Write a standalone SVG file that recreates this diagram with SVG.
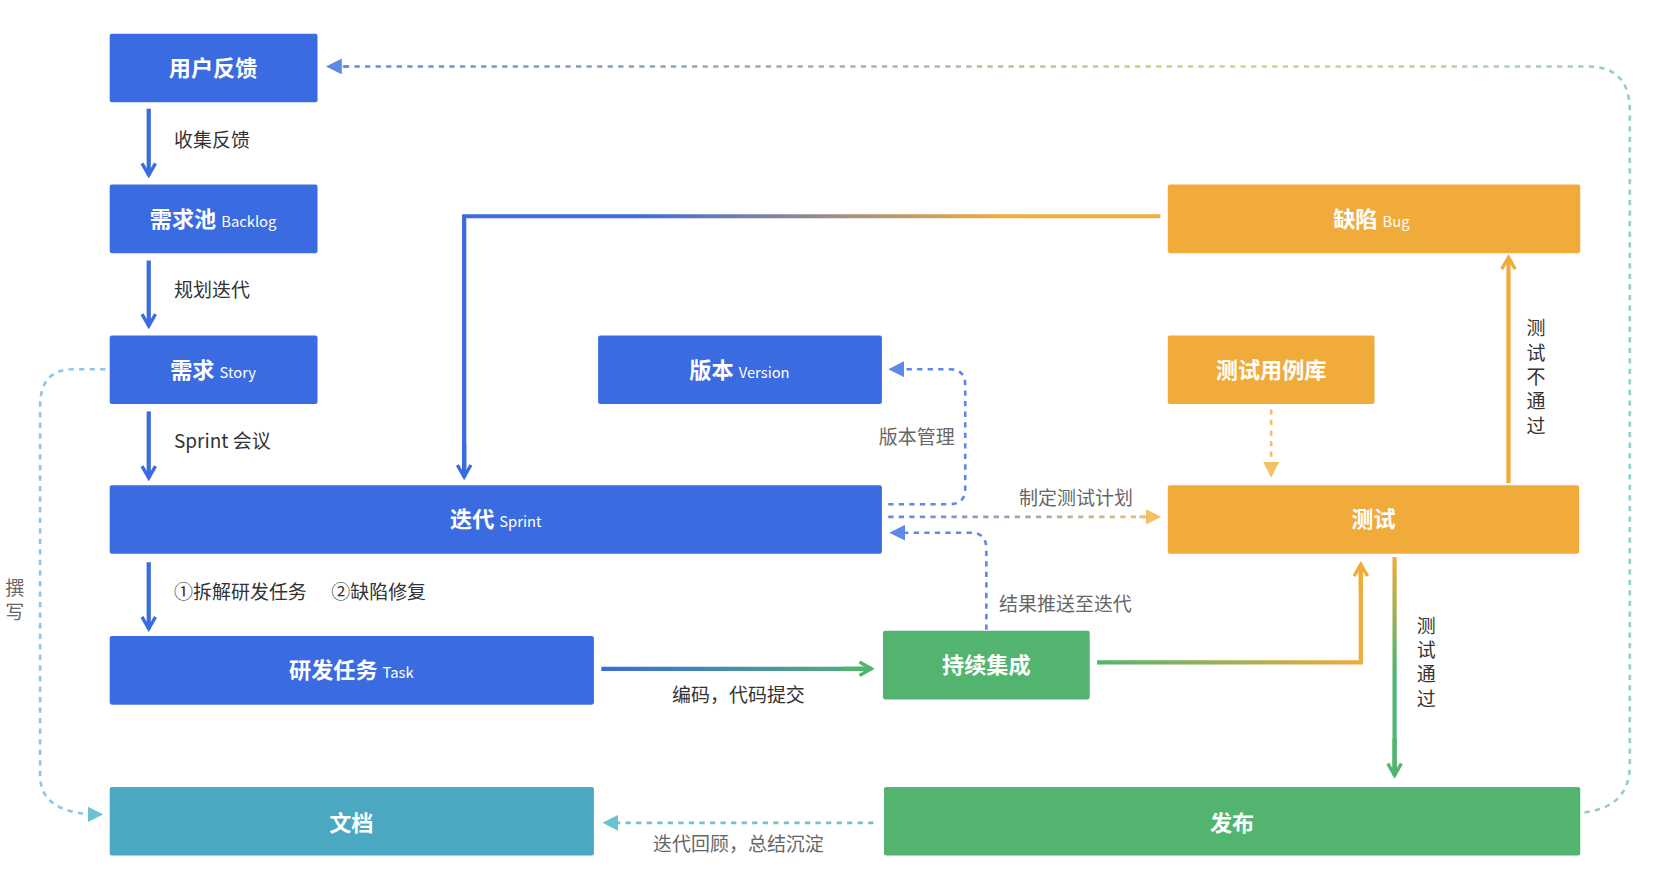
<svg xmlns="http://www.w3.org/2000/svg" width="1654" height="894" viewBox="0 0 1654 894">
<style>
.b{fill:#3b6be0}.o{fill:#f0ab3a}.g{fill:#52b46f}.t{fill:#4aa8c0}
.n{fill:#fff;font-family:"Noto Sans CJK SC","Liberation Sans",sans-serif;font-size:21px;font-weight:bold;text-anchor:middle}
.n tspan{font-size:14px;font-weight:normal}
.l{fill:#333;font-family:"Noto Sans CJK SC","Liberation Sans",sans-serif;font-size:18px}
.lg{fill:#666;font-family:"Noto Sans CJK SC","Liberation Sans",sans-serif;font-size:18px}
.s{fill:none;stroke-width:4}
.d{fill:none;stroke-width:2.5;stroke-dasharray:5 5}
</style>
<defs>
<marker id="ab" viewBox="0 0 10 10" refX="8" refY="5" markerWidth="4" markerHeight="4" orient="auto"><path d="M1,1L8,5L1,9" fill="none" stroke="#3b6be0" stroke-width="2"/></marker>
<marker id="ao" viewBox="0 0 10 10" refX="8" refY="5" markerWidth="4" markerHeight="4" orient="auto"><path d="M1,1L8,5L1,9" fill="none" stroke="#f0ab3a" stroke-width="2"/></marker>
<marker id="ag" viewBox="0 0 10 10" refX="8" refY="5" markerWidth="4" markerHeight="4" orient="auto"><path d="M1,1L8,5L1,9" fill="none" stroke="#52b46f" stroke-width="2"/></marker>
<marker id="fb" viewBox="0 0 10 10" refX="8" refY="5" markerWidth="6" markerHeight="6" orient="auto"><path d="M0,0L10,5L0,10Z" fill="#5d88ea"/></marker>
<marker id="fo" viewBox="0 0 10 10" refX="8" refY="5" markerWidth="6" markerHeight="6" orient="auto"><path d="M0,0L10,5L0,10Z" fill="#f3c068"/></marker>
<marker id="ft" viewBox="0 0 10 10" refX="8" refY="5" markerWidth="6" markerHeight="6" orient="auto"><path d="M0,0L10,5L0,10Z" fill="#6cc3cf"/></marker>
<linearGradient id="g1" gradientUnits="userSpaceOnUse" x1="1100" y1="0" x2="600" y2="0"><stop offset="0" stop-color="#f0ab3a"/><stop offset="0.3" stop-color="#f0ab3a"/><stop offset="1" stop-color="#3b6be0"/></linearGradient>
<linearGradient id="g2" gradientUnits="userSpaceOnUse" x1="570" y1="0" x2="828" y2="0"><stop offset="0" stop-color="#3b6be0"/><stop offset="1" stop-color="#52b46f"/></linearGradient>
<linearGradient id="g3" gradientUnits="userSpaceOnUse" x1="1040" y1="0" x2="1290" y2="0"><stop offset="0" stop-color="#52b46f"/><stop offset="1" stop-color="#f0ab3a"/></linearGradient>
<linearGradient id="g4" gradientUnits="userSpaceOnUse" x1="0" y1="528" x2="0" y2="737"><stop offset="0" stop-color="#f0ab3a"/><stop offset="0.5" stop-color="#52b46f"/><stop offset="1" stop-color="#52b46f"/></linearGradient>
<linearGradient id="g5" gradientUnits="userSpaceOnUse" x1="842" y1="0" x2="1100" y2="0"><stop offset="0" stop-color="#5d88ea"/><stop offset="1" stop-color="#f3c068"/></linearGradient>
<linearGradient id="g6" gradientUnits="userSpaceOnUse" x1="310" y1="0" x2="1545" y2="0"><stop offset="0" stop-color="#5d88ea"/><stop offset="0.7" stop-color="#d9d27a"/><stop offset="1" stop-color="#8fd0c8"/></linearGradient>
</defs>
<g transform="scale(1.0549)">
<g id="connectors">
<path class="s" stroke="#3b6be0" marker-end="url(#ab)" d="M141,103V166"/>
<path class="s" stroke="#3b6be0" marker-end="url(#ab)" d="M141,247V309"/>
<path class="s" stroke="#3b6be0" marker-end="url(#ab)" d="M141,390V453"/>
<path class="s" stroke="#3b6be0" marker-end="url(#ab)" d="M141,533V596"/>
<path class="s" stroke="url(#g1)" d="M1100,205H440V450"/>
<path class="s" stroke="#3b6be0" marker-end="url(#ab)" d="M440,420V452"/>
<path class="d" stroke="#5d88ea" marker-end="url(#fb)" d="M842,478H900Q915,478 915,463V365Q915,350 900,350H845"/>
<path class="d" stroke="url(#g5)" d="M842,490H1090"/>
<path class="d" stroke="#f3c068" marker-end="url(#fo)" d="M1080,490H1098"/>
<path class="d" stroke="#f3c068" marker-end="url(#fo)" d="M1205,388V450"/>
<path class="d" stroke="#5d88ea" marker-end="url(#fb)" d="M935,597V520Q935,505 920,505H846"/>
<path class="s" stroke="url(#g2)" d="M570,634H826"/>
<path class="s" stroke="#52b46f" marker-end="url(#ag)" d="M800,634H826"/>
<path class="s" stroke="url(#g3)" d="M1040,628H1290V536"/>
<path class="s" stroke="#f0ab3a" marker-end="url(#ao)" d="M1290,560V535"/>
<path class="s" stroke="#f0ab3a" marker-end="url(#ao)" d="M1430,458V244"/>
<path class="s" stroke="url(#g4)" d="M1322,528V735"/>
<path class="s" stroke="#52b46f" marker-end="url(#ag)" d="M1322,700V735"/>
<path class="d" stroke="#6cc3cf" marker-end="url(#ft)" d="M828,780H574"/>
<path class="d" stroke="url(#g6)" d="M1502,770Q1545,765 1545,725V105Q1545,63 1505,63H322"/>
<path class="d" stroke="#5d88ea" marker-end="url(#fb)" d="M330,63H312"/>
<path class="d" stroke="#8ec5ea" marker-end="url(#ft)" d="M100,350H70Q38,350 38,385V735Q38,772 95,772"/>
<text class="l" x="165" y="139">收集反馈</text>
<text class="l" x="165" y="282">规划迭代</text>
<text class="l" x="165" y="425">Sprint 会议</text>
<text class="l" x="165" y="568">①拆解研发任务  <tspan x="314">②缺陷修复</tspan></text>
<text class="lg" x="905" y="421" text-anchor="end">版本管理</text>
<text class="lg" x="1020" y="479" text-anchor="middle">制定测试计划</text>
<text class="lg" x="1010" y="579" text-anchor="middle">结果推送至迭代</text>
<text class="l" x="700" y="665" text-anchor="middle">编码，代码提交</text>
<text class="lg" x="700" y="807" text-anchor="middle">迭代回顾，总结沉淀</text>
<text class="l" x="1456" y="318" text-anchor="middle"><tspan x="1456">测</tspan><tspan x="1456" dy="23">试</tspan><tspan x="1456" dy="23">不</tspan><tspan x="1456" dy="23">通</tspan><tspan x="1456" dy="23">过</tspan></text>
<text class="l" x="1352" y="600" text-anchor="middle"><tspan x="1352">测</tspan><tspan x="1352" dy="23">试</tspan><tspan x="1352" dy="23">通</tspan><tspan x="1352" dy="23">过</tspan></text>
<text class="lg" x="14" y="564" text-anchor="middle" font-size="17"><tspan x="14">撰</tspan><tspan x="14" dy="23">写</tspan></text>
</g>
<g id="n1"><rect class="b" x="104" y="32" width="197" height="65" rx="2"/><text class="n" x="202" y="72">用户反馈</text></g>
<g id="n2"><rect class="b" x="104" y="175" width="197" height="65" rx="2"/><text class="n" x="202" y="215">需求池 <tspan>Backlog</tspan></text></g>
<g id="n3"><rect class="b" x="104" y="318" width="197" height="65" rx="2"/><text class="n" x="202" y="358">需求 <tspan>Story</tspan></text></g>
<g id="n4"><rect class="b" x="567" y="318" width="269" height="65" rx="2"/><text class="n" x="701" y="358">版本 <tspan>Version</tspan></text></g>
<g id="n5"><rect class="b" x="104" y="460" width="732" height="65" rx="2"/><text class="n" x="470" y="500">迭代 <tspan>Sprint</tspan></text></g>
<g id="n6"><rect class="b" x="104" y="603" width="459" height="65" rx="2"/><text class="n" x="333" y="643">研发任务 <tspan>Task</tspan></text></g>
<g id="n7"><rect class="t" x="104" y="746" width="459" height="65" rx="2"/><text class="n" x="333" y="788">文档</text></g>
<g id="n8"><rect class="o" x="1107" y="175" width="391" height="65" rx="2"/><text class="n" x="1300" y="215">缺陷 <tspan>Bug</tspan></text></g>
<g id="n9"><rect class="o" x="1107" y="318" width="196" height="65" rx="2"/><text class="n" x="1205" y="358">测试用例库</text></g>
<g id="n10"><rect class="o" x="1107" y="460" width="390" height="65" rx="2"/><text class="n" x="1302" y="500">测试</text></g>
<g id="n11"><rect class="g" x="837" y="598" width="196" height="65" rx="2"/><text class="n" x="935" y="638">持续集成</text></g>
<g id="n12"><rect class="g" x="838" y="746" width="660" height="65" rx="2"/><text class="n" x="1168" y="788">发布</text></g>
</g>
</svg>
